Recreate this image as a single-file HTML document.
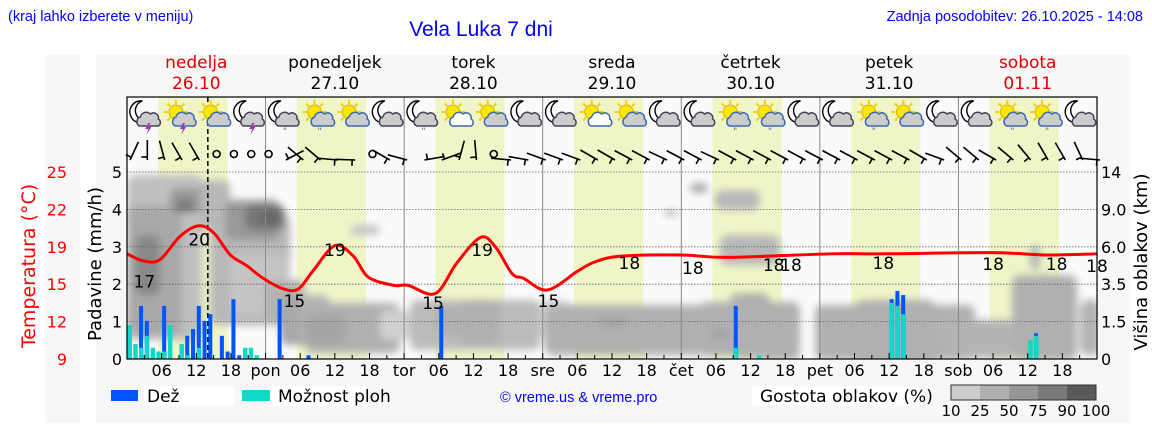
<!DOCTYPE html>
<html><head><meta charset="utf-8">
<style>
html,body{margin:0;padding:0;background:#fff;}
body{width:1152px;height:443px;position:relative;overflow:hidden;font-family:"Liberation Sans","DejaVu Sans",sans-serif;}
svg text{font-family:"DejaVu Sans","Liberation Sans",sans-serif;}
</style></head>
<body>
<svg id="chart" width="1152" height="443" xmlns="http://www.w3.org/2000/svg">
<defs>
<filter id="blur" x="-20%" y="-20%" width="140%" height="140%"><feGaussianBlur stdDeviation="4"/></filter>
<clipPath id="plotclip"><rect x="127" y="97" width="970" height="262"/></clipPath>
</defs>
<rect x="45" y="55" width="35" height="368" fill="#f7f7f7"/>
<rect x="96" y="55" width="1034" height="368" fill="#f7f7f7"/>
<text x="8" y="21" font-size="14.5" fill="#0000ff" style="font-family:'Liberation Sans',sans-serif">(kraj lahko izberete v meniju)</text>
<text x="481" y="36" font-size="21" fill="#0000ff" text-anchor="middle" style="font-family:'Liberation Sans',sans-serif">Vela Luka 7 dni</text>
<text x="1143" y="21" font-size="14.5" fill="#0000ff" text-anchor="end" style="font-family:'Liberation Sans',sans-serif">Zadnja posodobitev: 26.10.2025 - 14:08</text>
<g id="days"></g>
<rect x="127" y="97" width="970" height="262" fill="#fafafa"/>
<g id="dayshade"></g>
<g id="clouds" clip-path="url(#plotclip)"><g id="cloudsin" filter="url(#blur)"></g></g>
<g id="grid"></g>
<g id="bars"></g>
<g id="icons"></g>
<g id="wind"></g>
<path id="templine" fill="none" stroke="#ff0000" stroke-width="3"/>
<g id="templabels"></g>
<g id="axes"></g>
<g id="legend"></g>
</svg>
<script>
const days=['nedelja','ponedeljek','torek','sreda','četrtek','petek','sobota'];
const dates=['26.10','27.10','28.10','29.10','30.10','31.10','01.11'];
const dayAbbr=['pon','tor','sre','čet','pet','sob'];
const precipTicks=[0,1,2,3,4,5];
const tempTickLabels=['9','12','15','19','22','25'];
const cloudTickLabels=['0','1.5','3.5','6.0','9.0','14'];
const tempHours=[0,2.8,5.7,9.2,12.4,15,17.9,20.7,23.6,27.1,29.7,32.3,36,39.2,41.8,46.2,48.7,53.4,57.1,61.2,63.8,66.7,68.7,72.8,78,81,85.6,96,104,122,131,150,159,168];
const tempValues=[18.0,17.4,17.5,19.5,20.4,19.8,17.9,17.0,15.9,15.0,15.0,16.6,18.7,17.8,16.0,15.3,15.3,14.6,17.2,19.4,18.6,16.3,15.9,14.9,16.5,17.3,17.8,17.9,17.7,18.0,18.0,18.1,17.9,18.0,17.8];
const labelHours=[3,12.5,29,36,53,61.5,73,87,98,112,115,131,150,161,168];
const labelTemps=['17','20','15','19','15','19','15','18','18','18','18','18','18','18','18'];
const labelOffsets=[22,15,18,14,20,14,18,15,20,17,17,15,16,16,18];
const rainHours=[2,3,6,10,11,12,13,14,16,17,18,19,26,31,54,105,132,133,134,157];
const rainValues=[1.42,1.02,1.42,0.62,0.8,1.42,1.02,1.2,0.62,0.2,1.6,0.1,1.6,0.1,1.42,1.42,1.6,1.82,1.71,0.69];
const showerHours=[0,1,2,3,4,5,6,7,9,10,12,20,21,22,105,109,132,133,134,156,157];
const showerValues=[0.9,0.4,0.3,0.62,0.3,0.2,0.2,0.9,0.4,0.1,0.3,0.3,0.3,0.1,0.3,0.1,1.5,1.42,1.2,0.5,0.62];
const iconTypes=['mt','st','s','mt','mr','sr','s','m','mr','s','s','m','m','s','s','m','m','sr','sr','m','m','sr','s','m','m','sr','sr','m'];
const windDirs=[25,0,-15,-30,-30,null,null,null,null,62,-50,-50,-85,-88,null,-60,-75,80,70,15,-5,null,-85,-80,-70,-70,-70,-60,-60,-62,-62,-65,-62,-62,-65,-62,-62,-62,-62,-62,-62,-62,-62,-62,-62,-62,-60,-70,-50,-50,-60,-50,-40,-30,-30,-25,-85];

const NS='http://www.w3.org/2000/svg';
const X0=127,X1=1097,Y0=359,YT=97,HW=(X1-X0)/168;
const xH=h=>X0+h*HW;
const yP=v=>Y0-v*37.4;
const yT=t=>Y0-(t-9)/3.2*37.4;
function el(tag,attrs,parent,text){const e=document.createElementNS(NS,tag);for(const k in attrs)e.setAttribute(k,attrs[k]);if(text!==undefined)e.textContent=text;parent.appendChild(e);return e;}
const G=id=>document.getElementById(id);

days.forEach((d,i)=>{const cx=xH(i*24+12);const col=(i==0||i==6)?'#e00000':'#000';
 const t=el('text',{x:cx,y:68,'font-size':17,'text-anchor':'middle',fill:col},G('days'),d);
 
 
 const t2=el('text',{x:cx,y:89,'font-size':17,'text-anchor':'middle',fill:col},G('days'),dates[i]);
 
 
});
for(let i=0;i<7;i++){const r=el('rect',{x:xH(i*24+5.4),y:YT,width:12*HW,height:Y0-YT,fill:'#f0f5c8'},G('dayshade'));
 
 }
const blobs=[
[127,175,75,165,'#c0c0c0'],[127,205,55,130,'#a8a8a8'],[135,235,25,60,'#888'],[170,188,40,25,'#999'],[175,200,20,12,'#777'],
[200,180,30,50,'#b8b8b8'],[210,215,80,110,'#b8b8b8'],[225,200,55,40,'#999'],[245,205,40,25,'#777'],[260,210,20,15,'#666'],
[230,255,60,60,'#c4c4c4'],[265,280,40,45,'#b4b4b4'],[280,295,45,50,'#a8a8a8'],[300,295,30,50,'#b4b4b4'],
[350,225,30,10,'#c4c4c4'],[305,303,95,50,'#b0b0b0'],[305,315,40,30,'#a4a4a4'],
[380,310,30,30,'#d0d0d0'],[410,300,130,50,'#bbb'],[435,305,30,30,'#b0b0b0'],[460,300,40,45,'#b0b0b0'],[540,300,30,40,'#d0d0d0'],
[545,305,165,50,'#b0b0b0'],[598,318,30,8,'#a0a0a0'],[665,210,12,6,'#aaa'],[690,183,18,10,'#aaa'],
[715,190,45,20,'#b8b8b8'],[720,235,60,30,'#b8b8b8'],[700,302,100,54,'#b0b0b0'],[710,330,40,8,'#a0a0a0'],
[730,293,40,65,'#b0b0b0'],[760,305,40,55,'#b0b0b0'],[815,305,160,55,'#b0b0b0'],[855,300,80,65,'#b0b0b0'],
[940,315,20,40,'#b4b4b4'],[960,320,55,38,'#b4b4b4'],[1012,275,65,85,'#b0b0b0'],[1030,245,10,25,'#b4b4b4'],[1080,300,20,55,'#b4b4b4']];
blobs.forEach(b=>{const r=el('rect',{x:b[0],y:b[1],width:b[2],height:b[3],fill:b[4],rx:8},G('cloudsin'));
 
 });
[1,2,3,4,5].forEach(v=>{const l=el('line',{x1:X0,x2:X1,y1:yP(v),y2:yP(v),stroke:'#666','stroke-width':0.8,'stroke-dasharray':'1.5,1.5'},G('grid'));
 
 });
for(let i=1;i<7;i++){const l=el('line',{x1:xH(i*24),x2:xH(i*24),y1:YT,y2:Y0,stroke:'#888','stroke-width':1},G('grid'));
 
 }
const dl=el('line',{x1:xH(14),x2:xH(14),y1:YT,y2:Y0,stroke:'#000','stroke-width':1.5,'stroke-dasharray':'5,3'},G('grid'));


showerHours.forEach((h,i)=>{const r=el('rect',{x:xH(h)+0.5,y:yP(showerValues[i]),width:4.5,height:showerValues[i]*37.4,fill:'#11d8c8'},G('bars'));
 
 });
rainHours.forEach((h,i)=>{const r=el('rect',{x:xH(h)+0.5,y:yP(rainValues[i]),width:4,height:rainValues[i]*37.4,fill:'#0055ff'},G('bars'));
 
 });
showerHours.forEach((h,i)=>{const j=rainHours.indexOf(h);if(j>=0&&showerValues[i]<rainValues[j]){const r=el('rect',{x:xH(h)+0.5,y:yP(showerValues[i]),width:4,height:showerValues[i]*37.4,fill:'#11d8c8'},G('bars'));
 
 }});
function cloud(g,x,y,fill,stroke){el('path',{d:`M${x-10},${y+6} a5,5 0 0 1 1,-9 a6,6 0 0 1 10,-3 a5,5 0 0 1 8,5 a4,4 0 0 1 0,7 z`,fill:fill,stroke:stroke,'stroke-width':1.5},g);}
iconTypes.forEach((t,i)=>{const cx=xH(i*6+3),cy=117;const g=el('g',{},G('icons'));
 
 
 if(t[0]=='m'){el('path',{d:`M${cx-2},${cy-16} a11,11 0 1 0 6,19 a9,9 0 0 1 -6,-19 z`,fill:'#fff',stroke:'#000','stroke-width':1.4},g);cloud(g,cx+5,cy+3,'#ccc','#445');}
 else{for(let k=0;k<8;k++){const a=k*Math.PI/4;el('line',{x1:cx-3+Math.cos(a)*8,y1:cy-5+Math.sin(a)*8,x2:cx-3+Math.cos(a)*12,y2:cy-5+Math.sin(a)*12,stroke:'#f0d000','stroke-width':2},g);}
  el('circle',{cx:cx-3,cy:cy-5,r:7,fill:'#f8e800',stroke:'#d8b000','stroke-width':1},g);cloud(g,cx+6,cy+3,(t=='s'&&i%2)?'#fff':'#ccc','#3a6ab0');}
 if(t[1]=='t')el('path',{d:`M${cx+4},${cy+6} l-3,6 h3 l-2,6 l5,-8 h-3 l2,-4 z`,fill:'#a030c0'},g);
 if(t[1]=='r')el('text',{x:cx+2,y:cy+17,'font-size':9,fill:'#3a6ab0','text-anchor':'middle'},g,'"');
});
windDirs.forEach((d,i)=>{const bx=xH(i*3)+3,by=160;const g=el('g',{stroke:'#000','stroke-width':1.6,fill:'none'},G('wind'));
 
 
 if(d===null){el('circle',{cx:bx,cy:by-6,r:3.5},g);return;}
 const a=d*Math.PI/180;const ex=bx+Math.sin(a)*20,ey=by-Math.cos(a)*20;
 el('line',{x1:bx,y1:by,x2:ex,y2:ey},g);
 const px=Math.cos(a),py=Math.sin(a);
 el('line',{x1:bx+Math.sin(a)*3,y1:by-Math.cos(a)*3,x2:bx+Math.sin(a)*3-px*6,y2:by-Math.cos(a)*3-py*6},g);
});
{const pts=tempHours.map((h,i)=>[xH(h),yT(tempValues[i])]);let d='M'+pts[0][0]+','+pts[0][1];
 for(let i=1;i<pts.length;i++){const p0=pts[Math.max(0,i-2)],p1=pts[i-1],p2=pts[i],p3=pts[Math.min(pts.length-1,i+1)];
  d+=` C${p1[0]+(p2[0]-p0[0])/6},${p1[1]+(p2[1]-p0[1])/6} ${p2[0]-(p3[0]-p1[0])/6},${p2[1]-(p3[1]-p1[1])/6} ${p2[0]},${p2[1]}`;}
 G('templine').setAttribute('d',d);}
labelHours.forEach((h,i)=>{const t=el('text',{x:xH(h),y:yT(+labelTemps[i])+labelOffsets[i],'font-size':17,'text-anchor':'middle',fill:'#000'},G('templabels'),labelTemps[i]);
 
 });
const ax=G('axes');
const fr=el('rect',{x:X0,y:YT,width:X1-X0,height:Y0-YT,fill:'none',stroke:'#000','stroke-width':1.2},ax);


for(let h=3;h<168;h+=3){el('line',{x1:xH(h),x2:xH(h),y1:Y0,y2:Y0-(h%6?4:6),stroke:'#000'},ax);}
for(let i=0;i<7;i++){[6,12,18].forEach(hh=>{const t=el('text',{x:xH(i*24+hh),y:376,'font-size':16,'text-anchor':'middle'},ax,String(hh).padStart(2,'0'));
 
 });
 if(i>0){const t=el('text',{x:xH(i*24),y:376,'font-size':16,'text-anchor':'middle'},ax,dayAbbr[i-1]);
 
 }}
precipTicks.forEach((v,i)=>{const t=el('text',{x:122,y:yP(v)+6,'font-size':16,'text-anchor':'end'},ax,String(v));
 
 
 const t2=el('text',{x:67,y:yP(v)+6,'font-size':16,'text-anchor':'end',fill:'#f00'},ax,tempTickLabels[i]);
 
 
 const t3=el('text',{x:1101,y:yP(v)+6,'font-size':16},ax,cloudTickLabels[i]);
 
 });
const yl=el('text',{x:0,y:0,'font-size':18,'text-anchor':'middle',transform:'translate(101,264) rotate(-90)'},ax,'Padavine (mm/h)');

const tl=el('text',{x:0,y:0,'font-size':19,'text-anchor':'middle',fill:'#f00',transform:'translate(35,266) rotate(-90)'},ax,'Temperatura (°C)');

const rl=el('text',{x:0,y:0,'font-size':18,'text-anchor':'middle',transform:'translate(1147,262) rotate(-90)'},ax,'Višina oblakov (km)');

const lg=G('legend');
el('rect',{x:144,y:386,width:91,height:20,fill:'#fff'},lg);el('rect',{x:270,y:386,width:96,height:20,fill:'#fff'},lg);el('rect',{x:752,y:386,width:168,height:20,fill:'#fff'},lg);
const l1=el('rect',{x:111,y:390,width:27,height:11,fill:'#0055ff'},lg);
const l1t=el('text',{x:147,y:402,'font-size':17},lg,'Dež');
const l2=el('rect',{x:242,y:390,width:28,height:11,fill:'#11d8c8'},lg);
const l2t=el('text',{x:278,y:402,'font-size':17},lg,'Možnost ploh');
const cp=el('text',{x:500,y:402,'font-size':14.5,fill:'#0000ff',style:"font-family:'Liberation Sans',sans-serif"},lg,'© vreme.us & vreme.pro');
const gt=el('text',{x:760,y:402,'font-size':17},lg,'Gostota oblakov (%)');
const cbColors=['#cccccc','#b0b0b0','#969696','#7a7a7a','#5a5a5a'];const cbLabels=['10','25','50','75','90','100'];
cbColors.forEach((c,i)=>{const r=el('rect',{x:951+i*29,y:385,width:29,height:15,fill:c},lg);});
el('rect',{x:951,y:385,width:145,height:15,fill:'none',stroke:'#333'},lg);
cbLabels.forEach((l,i)=>{const t=el('text',{x:951+i*29,y:416,'font-size':15,'text-anchor':'middle'},lg,l);});
</script>
</body></html>
